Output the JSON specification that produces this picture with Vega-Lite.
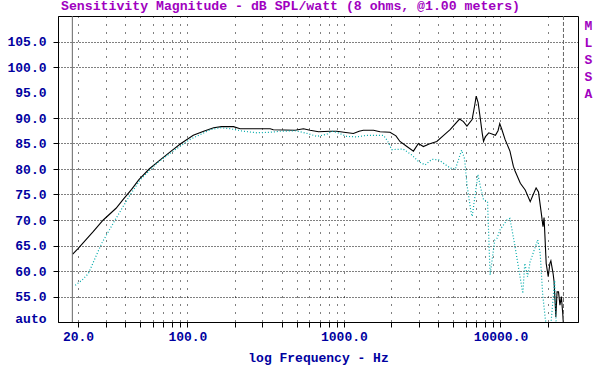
{
  "$schema": "https://vega.github.io/schema/vega-lite/v6.json",
  "width": 520,
  "height": 306,
  "autosize": "none",
  "padding": {"left": 58, "top": 16, "right": 19, "bottom": 49},
  "background": "white",
  "config": {"view": {"stroke": "black", "strokeWidth": 1}},
  "title": {
    "text": "Sensitivity Magnitude - dB SPL/watt (8 ohms, @1.00 meters)",
    "anchor": "start", "frame": "group", "font": "Liberation Mono", "fontSize": 13.2,
    "fontWeight": "bold", "color": "#A000C0", "offset": 2, "dx": 3
  },
  "datasets": {
    "black": [
      {"f": 18.5, "db": 63.3}, {"f": 20, "db": 64.4}, {"f": 25, "db": 67.7}, {"f": 29, "db": 70.0},
      {"f": 35, "db": 72.3}, {"f": 39, "db": 74.1}, {"f": 44, "db": 76.0}, {"f": 49, "db": 77.9},
      {"f": 57, "db": 80.0}, {"f": 67, "db": 81.8}, {"f": 78, "db": 83.4}, {"f": 90, "db": 84.9},
      {"f": 109, "db": 86.6}, {"f": 127, "db": 87.4}, {"f": 147, "db": 88.1}, {"f": 165, "db": 88.3},
      {"f": 197, "db": 88.3}, {"f": 217, "db": 87.9}, {"f": 280, "db": 87.9}, {"f": 338, "db": 87.9},
      {"f": 354, "db": 87.7}, {"f": 488, "db": 87.6}, {"f": 551, "db": 87.9}, {"f": 608, "db": 87.6},
      {"f": 688, "db": 87.3}, {"f": 815, "db": 87.4}, {"f": 900, "db": 87.4}, {"f": 1000, "db": 87.2},
      {"f": 1150, "db": 86.95}, {"f": 1250, "db": 87.4}, {"f": 1330, "db": 87.6}, {"f": 1545, "db": 87.6},
      {"f": 1700, "db": 87.3}, {"f": 1970, "db": 87.2}, {"f": 2150, "db": 86.5}, {"f": 2280, "db": 85.4},
      {"f": 2500, "db": 84.5}, {"f": 2780, "db": 83.5}, {"f": 2990, "db": 85.0}, {"f": 3220, "db": 84.4},
      {"f": 3500, "db": 84.9}, {"f": 3920, "db": 85.4}, {"f": 4300, "db": 86.5}, {"f": 4770, "db": 87.7},
      {"f": 5480, "db": 89.8}, {"f": 5800, "db": 89.3}, {"f": 6110, "db": 88.4}, {"f": 6590, "db": 89.7},
      {"f": 6850, "db": 92.5}, {"f": 7000, "db": 94.3}, {"f": 7200, "db": 93.0}, {"f": 7400, "db": 90.4},
      {"f": 7650, "db": 87.0}, {"f": 7800, "db": 85.4}, {"f": 8000, "db": 86.3}, {"f": 8420, "db": 87.1},
      {"f": 9290, "db": 86.6}, {"f": 9650, "db": 87.5}, {"f": 9900, "db": 88.9}, {"f": 10200, "db": 87.8},
      {"f": 10700, "db": 85.8}, {"f": 11500, "db": 83.5}, {"f": 12100, "db": 80.5}, {"f": 12400, "db": 79.6},
      {"f": 13400, "db": 77.2}, {"f": 14400, "db": 75.9}, {"f": 15500, "db": 73.6}, {"f": 16200, "db": 75.0},
      {"f": 16900, "db": 76.3}, {"f": 17500, "db": 75.5}, {"f": 18300, "db": 71.0}, {"f": 18700, "db": 68.7},
      {"f": 19000, "db": 70.5}, {"f": 19300, "db": 66.0}, {"f": 19600, "db": 61.5}, {"f": 20200, "db": 58.9},
      {"f": 20700, "db": 61.5}, {"f": 21000, "db": 62.0}, {"f": 21700, "db": 59.5}, {"f": 22000, "db": 58.0},
      {"f": 22600, "db": 51.0}, {"f": 23000, "db": 55.9}, {"f": 23500, "db": 55.9}, {"f": 24000, "db": 53.3},
      {"f": 24500, "db": 55.0}, {"f": 25000, "db": 51.7}, {"f": 25200, "db": 50.0}
    ],
    "cyan": [
      {"f": 19.2, "db": 57.2}, {"f": 21.2, "db": 58.2}, {"f": 23.3, "db": 59.5}, {"f": 28.3, "db": 65.4},
      {"f": 34.5, "db": 70.0}, {"f": 43, "db": 74.9}, {"f": 50, "db": 77.9}, {"f": 64, "db": 81.2},
      {"f": 81, "db": 83.5}, {"f": 104, "db": 85.8}, {"f": 140, "db": 87.7}, {"f": 162, "db": 88.1},
      {"f": 188, "db": 87.9}, {"f": 228, "db": 87.4}, {"f": 278, "db": 87.1}, {"f": 338, "db": 87.2},
      {"f": 390, "db": 87.4}, {"f": 488, "db": 87.5}, {"f": 580, "db": 87.0}, {"f": 670, "db": 86.4},
      {"f": 778, "db": 86.8}, {"f": 835, "db": 87.4}, {"f": 900, "db": 87.2}, {"f": 1040, "db": 86.4},
      {"f": 1210, "db": 86.3}, {"f": 1400, "db": 86.6}, {"f": 1790, "db": 86.6}, {"f": 1900, "db": 85.5},
      {"f": 2020, "db": 83.8}, {"f": 2390, "db": 83.9}, {"f": 2700, "db": 82.8}, {"f": 2990, "db": 81.5},
      {"f": 3300, "db": 80.8}, {"f": 3650, "db": 81.9}, {"f": 4030, "db": 81.8}, {"f": 4770, "db": 80.2},
      {"f": 5140, "db": 79.9}, {"f": 5650, "db": 83.7}, {"f": 5900, "db": 82.0}, {"f": 6110, "db": 77.0},
      {"f": 6450, "db": 72.0}, {"f": 6600, "db": 70.7}, {"f": 6900, "db": 75.0}, {"f": 7180, "db": 78.9},
      {"f": 7450, "db": 76.5}, {"f": 7800, "db": 74.0}, {"f": 8270, "db": 73.6}, {"f": 8590, "db": 59.2},
      {"f": 9200, "db": 66.1}, {"f": 9500, "db": 66.4}, {"f": 9954, "db": 68.1}, {"f": 11000, "db": 70.0},
      {"f": 11500, "db": 70.3}, {"f": 12300, "db": 65.4}, {"f": 13900, "db": 55.6}, {"f": 14300, "db": 61.5},
      {"f": 14900, "db": 58.9}, {"f": 15480, "db": 61.8}, {"f": 17300, "db": 66.1}, {"f": 17940, "db": 63.5},
      {"f": 18600, "db": 55.6}, {"f": 19400, "db": 50.3}, {"f": 20800, "db": 48.0}, {"f": 22200, "db": 58.2},
      {"f": 22800, "db": 48.0}
    ],
    "solidRule": [{"f": 18.4}],
    "dashRule": [{"f": 25270}]
  },
  "encoding": {
    "x": {
      "field": "f", "type": "quantitative",
      "scale": {"type": "log", "domain": [14.9, 31300], "nice": false},
      "axis": {
        "values": [20,30,40,50,60,70,80,90,100,200,300,400,500,600,700,800,900,1000,2000,3000,4000,5000,6000,7000,8000,9000,10000,20000],
        "labelExpr": "indexof([20,100,1000,10000], datum.value) >= 0 ? format(datum.value, '.1f') : ''",
        "labelFont": "Liberation Mono", "labelFontWeight": "bold", "labelFontSize": 13, "labelColor": "#0000A0",
        "labelFlush": false, "labelOverlap": false, "labelPadding": 3,
        "tickColor": "black", "tickSize": 5, "domainColor": "black",
        "grid": true, "gridColor": "black", "gridDash": [1, 7], "gridOpacity": 1,
        "title": "log Frequency - Hz", "titleFont": "Liberation Mono", "titleFontWeight": "bold",
        "titleFontSize": 13, "titleColor": "#0000A0", "titlePadding": 8
      }
    }
  },
  "layer": [
    {
      "data": {"name": "black"},
      "mark": {"type": "line", "color": "black", "strokeWidth": 1.1, "clip": true},
      "encoding": {
        "y": {
          "field": "db", "type": "quantitative",
          "scale": {"domain": [50, 110], "nice": false, "zero": false},
          "axis": {
            "values": [50,55,60,65,70,75,80,85,90,95,100,105],
            "labelExpr": "datum.value == 50 ? 'auto' : format(datum.value, '.1f')",
            "labelFont": "Liberation Mono", "labelFontWeight": "bold", "labelFontSize": 13, "labelColor": "#0000A0",
            "labelPadding": 7, "labelFlush": false, "labelOverlap": false,
            "labelOffset": {"condition": {"test": "datum.value == 50", "value": -4}, "value": 0},
            "tickColor": "black", "tickSize": 5,
            "tickOpacity": {"condition": {"test": "datum.value == 50 || datum.value == 95", "value": 0}, "value": 1},
            "domainColor": "black",
            "grid": true, "gridColor": "black", "gridDash": [1, 2],
            "gridOpacity": {"condition": {"test": "datum.value == 50 || datum.value == 95", "value": 0}, "value": 1},
            "title": null
          }
        }
      }
    },
    {
      "data": {"name": "cyan"},
      "mark": {"type": "line", "color": "#00AAAA", "strokeWidth": 1.2, "strokeDash": [1, 2], "clip": true},
      "encoding": {
        "y": {
          "field": "db", "type": "quantitative",
          "scale": {"domain": [50, 110], "nice": false, "zero": false},
          "axis": {
            "orient": "right", "labels": false, "ticks": false, "domain": false, "grid": false,
            "title": ["M", "L", "S", "S", "A"], "titleAngle": 0, "titleAlign": "center", "titleBaseline": "top",
            "titleX": 10, "titleY": 3, "titleLineHeight": 17,
            "titleFont": "Liberation Mono", "titleFontWeight": "bold", "titleFontSize": 13, "titleColor": "#A000C0"
          }
        }
      }
    },
    {
      "data": {"name": "solidRule"},
      "mark": {"type": "rule", "color": "#666666", "strokeWidth": 1},
      "encoding": {}
    },
    {
      "data": {"name": "dashRule"},
      "mark": {"type": "rule", "color": "#666666", "strokeWidth": 1, "strokeDash": [4, 2]},
      "encoding": {}
    }
  ],
  "resolve": {"axis": {"y": "independent"}}
}
